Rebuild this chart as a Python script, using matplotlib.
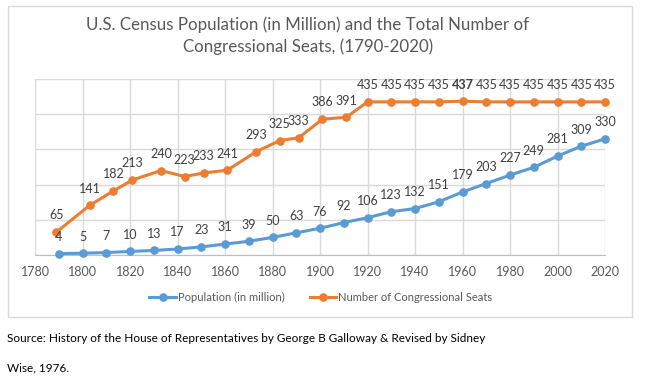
import matplotlib
matplotlib.use("Agg")
import matplotlib.pyplot as plt
from matplotlib.patches import Rectangle

plt.rcParams['font.family'] = ['Lato', 'DejaVu Sans']

# data
pop_years = [1790, 1800, 1810, 1820, 1830, 1840, 1850, 1860, 1870, 1880, 1890, 1900,
             1910, 1920, 1930, 1940, 1950, 1960, 1970, 1980, 1990, 2000, 2010, 2020]
population = [4, 5, 7, 10, 13, 17, 23, 31, 39, 50, 63, 76,
              92, 106, 123, 132, 151, 179, 203, 227, 249, 281, 309, 330]
seat_years = [1789, 1803, 1813, 1821, 1833, 1843, 1851, 1861, 1873, 1883, 1891, 1901,
              1911, 1920, 1930, 1940, 1950, 1960, 1970, 1980, 1990, 2000, 2010, 2020]
seats = [65, 141, 182, 213, 240, 223, 233, 241, 293, 325, 333, 386,
         391, 435, 435, 435, 435, 437, 435, 435, 435, 435, 435, 435]
x_ticks = list(range(1780, 2021, 20))

BLUE = '#5B9BD5'
ORANGE = '#ED7D31'
GRID = '#D9D9D9'
TXT = '#595959'
LBL = '#404040'

fig = plt.figure(figsize=(6.5, 3.88), dpi=100)
W, H = 650, 388

# chart border
fig.patches.append(Rectangle((8 / W, 1 - 317 / H), 624 / W, 311 / H, transform=fig.transFigure,
                             fill=False, edgecolor=GRID, linewidth=1))

ax = fig.add_axes([35 / W, 1 - 255 / H, 570 / W, 176 / H])
ax.plot(pop_years, population, color=BLUE, lw=2.2, marker='o', ms=5.2, label='Population (in million)',
        clip_on=False, zorder=3)
ax.plot(seat_years, seats, color=ORANGE, lw=2.2, marker='o', ms=5.2, label='Number of Congressional Seats',
        clip_on=False, zorder=3)

for x, y in zip(pop_years, population):
    ax.annotate(str(y), (x, y), xytext=(0, 12), textcoords='offset points', ha='center', va='center',
                fontsize=9, color=LBL)
for x, y in zip(seat_years, seats):
    ax.annotate(str(y), (x, y), xytext=(0, 12), textcoords='offset points', ha='center', va='center',
                fontsize=9, color=LBL, fontweight='bold' if y == 437 else 'normal')

ax.set_xlim(1780, 2020)
ax.set_ylim(0, 500)
ax.set_xticks(x_ticks)
ax.set_yticks(range(0, 501, 100))
ax.set_yticklabels([])
ax.grid(True, color=GRID, lw=1)
ax.set_axisbelow(True)
ax.tick_params(axis='both', length=0, labelsize=9, labelcolor=TXT, pad=8)
for s in ['top', 'right', 'left']:
    ax.spines[s].set_visible(False)
ax.spines['bottom'].set_color('#BFBFBF')

ax.legend(loc='center', bbox_to_anchor=(321 / W, 1 - 297 / H), bbox_transform=fig.transFigure,
          ncol=2, frameon=False, fontsize=8, labelcolor=TXT, handlelength=2.4, columnspacing=2.2,
          handletextpad=0.2)

fig.text(308 / W, 1 - 25 / H, 'U.S. Census Population (in Million) and the Total Number of',
         ha='center', va='center', fontsize=12.2, color=TXT)
fig.text(308 / W, 1 - 47 / H, 'Congressional Seats, (1790-2020)',
         ha='center', va='center', fontsize=12.2, color=TXT)

fig.text(7 / W, 1 - 338 / H,
         'Source: History of the House of Representatives by George B Galloway & Revised by Sidney',
         ha='left', va='center', fontsize=8.5, color='black')
fig.text(7 / W, 1 - 368 / H, 'Wise, 1976.', ha='left', va='center', fontsize=8.5, color='black')

fig.savefig('out.png', dpi=100, facecolor='white')
